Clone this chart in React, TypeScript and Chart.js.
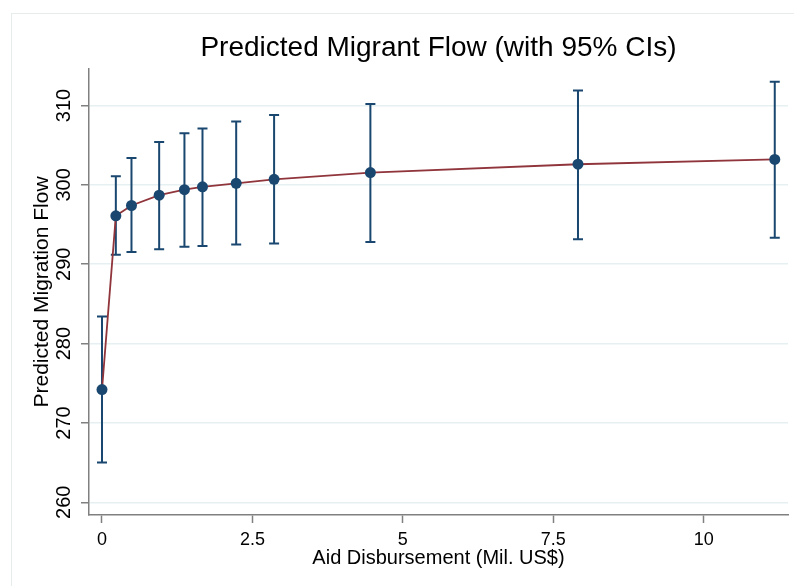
import React, { useEffect, useRef } from "react";
import { Chart, registerables } from "chart.js";

Chart.register(...registerables);

const aidDisbursement = [0, 0.23, 0.49, 0.95, 1.37, 1.67, 2.23, 2.86, 4.46, 7.91, 11.18];
const predictedFlow = [274.2, 296.1, 297.4, 298.7, 299.4, 299.75, 300.2, 300.7, 301.55, 302.6, 303.2];
const ciLower = [265.0, 291.2, 291.55, 291.9, 292.2, 292.3, 292.5, 292.6, 292.8, 293.15, 293.35];
const ciUpper = [283.4, 301.1, 303.4, 305.4, 306.5, 307.1, 308.0, 308.8, 310.2, 311.9, 313.0];
const xTicks = [0, 2.5, 5, 7.5, 10];
const yTicks = [260, 270, 280, 290, 300, 310];

const chartTitle = "Predicted Migrant Flow (with 95% CIs)";
const xTitle = "Aid Disbursement (Mil. US$)";
const yTitle = "Predicted Migration Flow";

const FONT = "'Liberation Sans', Arial, Helvetica, sans-serif";
const NAVY = "#1a476f";
const MAROON = "#90353b";
const AXIS = "#808080";
const GRID = "#e6eff1";

const framePlugin = {
  id: "frame",
  beforeDraw(chart: any) {
    const ctx = chart.ctx;
    ctx.save();
    ctx.fillStyle = "#ffffff";
    ctx.fillRect(0, 0, chart.width, chart.height);
    ctx.strokeStyle = "#e6ebeb";
    ctx.lineWidth = 1;
    ctx.strokeRect(11.5, 13.5, chart.width + 20, chart.height + 20);
    ctx.restore();
  },
};

const errorBarPlugin = {
  id: "errorBars",
  beforeDatasetsDraw(chart: any) {
    const ctx = chart.ctx;
    const xs = chart.scales.x;
    const ys = chart.scales.y;
    const cap = 5;
    ctx.save();
    ctx.strokeStyle = NAVY;
    ctx.lineWidth = 2;
    aidDisbursement.forEach((xv, i) => {
      const px = xs.getPixelForValue(xv);
      const pLo = ys.getPixelForValue(ciLower[i]);
      const pHi = ys.getPixelForValue(ciUpper[i]);
      ctx.beginPath();
      ctx.moveTo(px, pLo);
      ctx.lineTo(px, pHi);
      ctx.moveTo(px - cap, pLo);
      ctx.lineTo(px + cap, pLo);
      ctx.moveTo(px - cap, pHi);
      ctx.lineTo(px + cap, pHi);
      ctx.stroke();
    });
    ctx.restore();
  },
};

export default function App() {
  const ref = useRef<HTMLCanvasElement | null>(null);

  useEffect(() => {
    if (!ref.current) return;
    const chart = new Chart(ref.current, {
      type: "line",
      data: {
        datasets: [
          {
            label: "Predicted",
            data: aidDisbursement.map((x, i) => ({ x, y: predictedFlow[i] })),
            borderColor: MAROON,
            borderWidth: 1.8,
            pointRadius: 5.5,
            pointBackgroundColor: NAVY,
            pointBorderColor: NAVY,
            pointBorderWidth: 0,
            tension: 0,
            clip: false as any,
          },
        ],
      },
      options: {
        animation: false,
        responsive: false,
        devicePixelRatio: 1,
        layout: { padding: { left: 0, right: 6, top: 0, bottom: 0 } },
        plugins: {
          legend: { display: false },
          tooltip: { enabled: false },
          title: {
            display: true,
            text: chartTitle,
            fullSize: false,
            color: "#000000",
            font: { family: FONT, size: 28, weight: "normal", lineHeight: 1.2 },
            padding: { top: 31.4, bottom: 4 },
          },
        },
        scales: {
          x: {
            type: "linear",
            min: -0.216,
            max: 11.4,
            afterBuildTicks: (s: any) => {
              s.ticks = xTicks.map((v) => ({ value: v }));
            },
            afterFit: (s: any) => {
              s.height = 71;
            },
            border: { display: true, color: AXIS, width: 1.5 },
            grid: {
              display: true,
              drawOnChartArea: false,
              drawTicks: true,
              tickLength: 8,
              tickColor: AXIS,
              tickWidth: 1.5,
            },
            ticks: {
              color: "#000000",
              font: { family: FONT, size: 18 },
              padding: 6,
              maxRotation: 0,
              minRotation: 0,
              callback: (v: any) => String(v),
            },
            title: {
              display: true,
              text: xTitle,
              color: "#000000",
              font: { family: FONT, size: 20, lineHeight: 1.2 },
              padding: { top: 0, bottom: 15.5 },
            },
          },
          y: {
            type: "linear",
            min: 258.4,
            max: 314.6,
            afterBuildTicks: (s: any) => {
              s.ticks = yTicks.map((v) => ({ value: v }));
            },
            afterFit: (s: any) => {
              s.width = 89;
            },
            border: { display: true, color: AXIS, width: 1.5 },
            grid: {
              display: true,
              color: GRID,
              lineWidth: 1.5,
              drawTicks: true,
              tickLength: 8,
              tickColor: AXIS,
              tickWidth: 1.5,
            },
            ticks: {
              color: "#000000",
              font: { family: FONT, size: 20 },
              padding: 0,
              minRotation: 90,
              maxRotation: 90,
              crossAlign: "center",
              callback: (v: any) => String(v),
            },
            title: {
              display: true,
              text: yTitle,
              color: "#000000",
              font: { family: FONT, size: 21, lineHeight: 1.2 },
              padding: { top: 30, bottom: 0 },
            },
          },
        },
      },
      plugins: [framePlugin, errorBarPlugin],
    });
    return () => chart.destroy();
  }, []);

  return (
    <div style={{ position: "fixed", left: 0, top: 0, width: 794, height: 586 }}>
      <canvas ref={ref} width={794} height={586} style={{ display: "block" }} />
    </div>
  );
}
